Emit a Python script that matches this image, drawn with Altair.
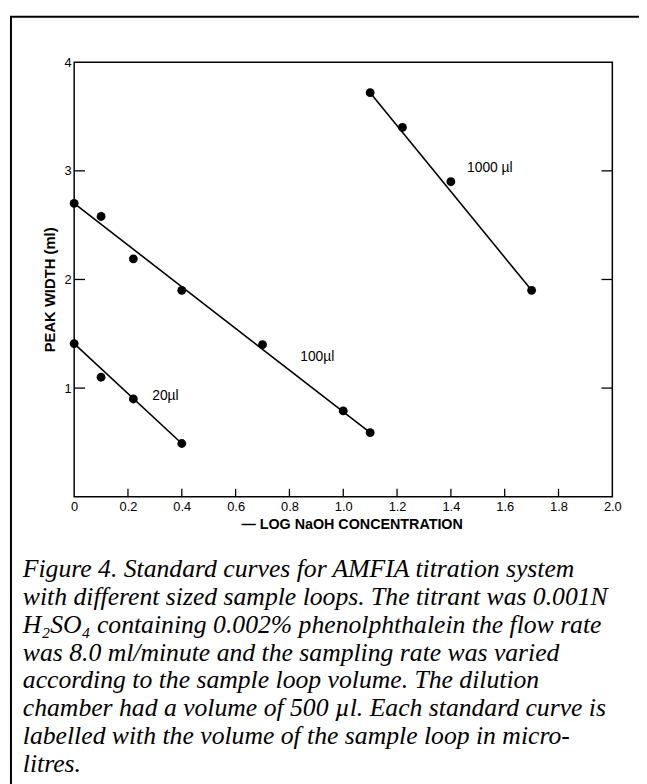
import altair as alt
import pandas as pd

# --- data ---
x_20 = [0.0, 0.10, 0.22, 0.40]
y_20 = [1.41, 1.10, 0.90, 0.49]

x_100 = [0.0, 0.10, 0.22, 0.40, 0.70, 1.00, 1.10]
y_100 = [2.70, 2.58, 2.19, 1.90, 1.40, 0.79, 0.59]

x_1000 = [1.10, 1.22, 1.40, 1.70]
y_1000 = [3.72, 3.40, 2.90, 1.90]

# fitted standard-curve end points
line_series = ["20", "20", "100", "100", "1000", "1000"]
line_x = [0.0, 0.40, 0.0, 1.10, 1.10, 1.70]
line_y = [1.41, 0.49, 2.70, 0.59, 3.72, 1.90]

label_text = ["20\u00b5l", "100\u00b5l", "1000 \u00b5l"]
label_x = [0.29, 0.84, 1.46]
label_y = [0.93, 1.29, 3.03]

x_ticks = [0, 0.2, 0.4, 0.6, 0.8, 1.0, 1.2, 1.4, 1.6, 1.8, 2.0]
x_inner_ticks = [0.2, 0.4, 0.6, 0.8, 1.0, 1.2, 1.4, 1.6, 1.8]
y_ticks = [1, 2, 3, 4]
y_inner_ticks = [1, 2, 3]

caption_lines = [
    "Figure 4. Standard curves for AMFIA titration system",
    "with different sized sample loops. The titrant was 0.001N",
    "H\u2082SO\u2084 containing 0.002% phenolphthalein the flow rate",
    "was 8.0 ml/minute and the sampling rate was varied",
    "according to the sample loop volume. The dilution",
    "chamber had a volume of 500 \u00b5l. Each standard curve is",
    "labelled with the volume of the sample loop in micro-",
    "litres.",
]

# --- tables ---
pts = pd.DataFrame({
    "x": x_20 + x_100 + x_1000,
    "y": y_20 + y_100 + y_1000,
    "s": ["20"] * len(x_20) + ["100"] * len(x_100) + ["1000"] * len(x_1000),
})
lines = pd.DataFrame({"s": line_series, "x": line_x, "y": line_y})
labels = pd.DataFrame({"t": label_text, "x": label_x, "y": label_y})
xt = pd.DataFrame({"x": x_inner_ticks})
yt = pd.DataFrame({"y": y_inner_ticks})
one = pd.DataFrame({"a": [0]})

SANS = "Liberation Sans"
xs = alt.Scale(domain=[0, 2], nice=False, zero=False)
ys = alt.Scale(domain=[0, 4], nice=False, zero=False)

x_axis = alt.Axis(
    values=x_ticks,
    labelExpr="datum.value == 0 ? '0' : format(datum.value, '.1f')",
    ticks=False, domain=False, grid=False,
    labelFont=SANS, labelFontSize=13, labelColor="black", labelPadding=4,
    labelFlush=False, labelOverlap=False,
    title="\u2014 LOG  NaOH CONCENTRATION",
    titleFont=SANS, titleFontSize=14.5, titleFontWeight="bold", titleColor="black",
    titlePadding=4, titleX=281,
)
y_axis = alt.Axis(
    values=y_ticks, format="d",
    ticks=False, domain=False, grid=False,
    labelFont=SANS, labelFontSize=13, labelColor="black", labelPadding=3,
    labelFlush=False, labelOverlap=False,
    title="PEAK WIDTH (ml)",
    titleFont=SANS, titleFontSize=15, titleFontWeight="bold", titleColor="black",
    titlePadding=7, titleY=230,
)

base_lines = alt.Chart(lines).mark_line(color="black", strokeWidth=1.6).encode(
    x=alt.X("x:Q", scale=xs, axis=x_axis),
    y=alt.Y("y:Q", scale=ys, axis=y_axis),
    detail="s:N",
)

points = alt.Chart(pts).mark_circle(size=80, color="black", opacity=1).encode(
    x=alt.X("x:Q", scale=xs),
    y=alt.Y("y:Q", scale=ys),
)

text_labels = alt.Chart(labels).mark_text(
    align="left", baseline="middle", font=SANS, fontSize=14, color="black"
).encode(
    x=alt.X("x:Q", scale=xs),
    y=alt.Y("y:Q", scale=ys),
    text="t:N",
)

bottom_ticks = alt.Chart(xt).mark_rule(color="black", strokeWidth=1.3).encode(
    x=alt.X("x:Q", scale=xs),
    y=alt.value(440),
    y2=alt.value(432),
)
left_ticks = alt.Chart(yt).mark_rule(color="black", strokeWidth=1.3).encode(
    y=alt.Y("y:Q", scale=ys),
    x=alt.value(0),
    x2=alt.value(11),
)
right_ticks = alt.Chart(yt).mark_rule(color="black", strokeWidth=1.3).encode(
    y=alt.Y("y:Q", scale=ys),
    x=alt.value(545),
    x2=alt.value(534),
)

border = alt.Chart(one).mark_rect(
    fillOpacity=0, stroke="black", strokeWidth=2
).encode(
    x=alt.value(-64), x2=alt.value(700),
    y=alt.value(-46), y2=alt.value(800),
)

caption = alt.Chart(one).mark_text(
    text="\n".join(caption_lines), lineBreak="\n", lineHeight=28.3,
    align="left", baseline="alphabetic",
    font="Liberation Serif", fontStyle="italic", fontSize=26, color="black",
).encode(
    x=alt.value(-52),
    y=alt.value(521),
)

chart = alt.layer(
    border, base_lines, points, text_labels,
    bottom_ticks, left_ticks, right_ticks, caption,
).properties(
    width=545, height=440,
    padding={"left": 67, "top": 50, "right": 27, "bottom": 286},
    autosize=alt.AutoSizeParams(type="none"),
).configure_view(
    stroke="black", strokeWidth=1.5
)

chart.save("out.html", embed_options={"renderer": "svg", "actions": False})
